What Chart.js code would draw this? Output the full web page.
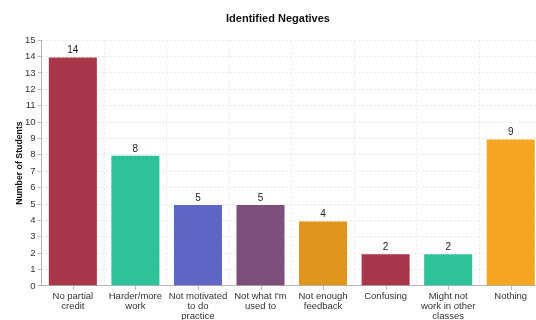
<!DOCTYPE html>
<html lang="en">
<head>
    <meta charset="UTF-8">
    <title>Identified Negatives</title>
    <script src="https://cdn.jsdelivr.net/npm/chart.js"></script>
    <style>
        html, body {
            margin: 0;
            padding: 0;
            overflow: hidden;
            background: #fff;
        }
        .chart-box {
            width: 588px;
            height: 327px;
        }
    </style>
</head>
<body>
    <div class="chart-box">
        <canvas id="negChart"></canvas>
    </div>

    <script>
        // Datos del gráfico
        const categorias = [
            ['No partial', 'credit'],
            ['Harder/more', 'work'],
            ['Not motivated', 'to do', 'practice'],
            ["Not what I'm", 'used to'],
            ['Not enough', 'feedback'],
            ['Confusing'],
            ['Might not', 'work in other', 'classes'],
            ['Nothing']
        ];
        const estudiantes = [14, 8, 5, 5, 4, 2, 2, 9];
        const colores = ['#aa364b', '#2ec29a', '#6066c4', '#7f4f7c', '#e0951f', '#aa364b', '#2ec29a', '#f4a622'];
        const ticksY = [0, 1, 2, 3, 4, 5, 6, 7, 8, 9, 10, 11, 12, 13, 14, 15];

        const fuente = '"Liberation Sans", Arial, sans-serif';

        // Etiquetas de valor encima de cada barra
        const etiquetasValor = {
            id: 'etiquetasValor',
            afterDatasetsDraw(chart) {
                const ctx = chart.ctx;
                const meta = chart.getDatasetMeta(0);
                ctx.save();
                ctx.font = '10px ' + fuente;
                ctx.fillStyle = '#222';
                ctx.textAlign = 'center';
                ctx.textBaseline = 'bottom';
                meta.data.forEach((bar, i) => {
                    ctx.fillText(estudiantes[i], bar.x, bar.y - 1);
                });
                ctx.restore();
            }
        };

        // Marcas del eje X en el centro de cada categoría
        const marcasX = {
            id: 'marcasX',
            afterDraw(chart) {
                const x = chart.scales.x;
                const ctx = chart.ctx;
                ctx.save();
                ctx.strokeStyle = '#bbb';
                ctx.lineWidth = 1;
                ctx.beginPath();
                categorias.forEach((c, i) => {
                    const px = Math.round(x.getPixelForValue(i)) + 0.5;
                    ctx.moveTo(px, x.top);
                    ctx.lineTo(px, x.top + 4);
                });
                ctx.stroke();
                ctx.restore();
            }
        };

        const ctx = document.getElementById('negChart').getContext('2d');
        new Chart(ctx, {
            type: 'bar',
            data: {
                labels: categorias,
                datasets: [{
                    label: 'Number of Students',
                    data: estudiantes,
                    backgroundColor: colores,
                    borderColor: 'rgba(255,255,255,0.45)',
                    borderWidth: 1,
                    barPercentage: 0.8,
                    categoryPercentage: 1.0
                }]
            },
            options: {
                responsive: true,
                maintainAspectRatio: false,
                animation: false,
                layout: {
                    padding: { left: 14, right: 46, top: 4, bottom: 0 }
                },
                plugins: {
                    legend: { display: false },
                    tooltip: { enabled: false },
                    title: {
                        display: true,
                        text: 'Identified Negatives',
                        color: '#111',
                        font: { family: fuente, size: 11, weight: 'bold' },
                        padding: { top: 8, bottom: 15 }
                    }
                },
                scales: {
                    x: {
                        grid: {
                            display: true,
                            offset: true,
                            color: '#e8e8e8',
                            drawTicks: false
                        },
                        border: { display: true, color: '#b5b5b5', dash: [2, 2] },
                        ticks: {
                            color: '#333',
                            maxRotation: 0,
                            autoSkip: false,
                            padding: 6,
                            font: { family: fuente, size: 9.5, lineHeight: 1.02 }
                        }
                    },
                    y: {
                        min: 0,
                        max: 15,
                        afterBuildTicks(axis) {
                            axis.ticks = ticksY.map(v => ({ value: v }));
                        },
                        grid: {
                            color: '#e8e8e8',
                            tickColor: '#bbb',
                            tickLength: 4,
                            tickBorderDash: [],
                            tickBorderDashOffset: 0
                        },
                        border: { display: true, color: '#b5b5b5', dash: [2, 2] },
                        title: {
                            display: true,
                            text: 'Number of Students',
                            color: '#111',
                            font: { family: fuente, size: 8.75, weight: 'bold' },
                            padding: { top: 0, bottom: -1.5 }
                        },
                        ticks: {
                            color: '#333',
                            padding: 2,
                            font: { family: fuente, size: 9.5 }
                        }
                    }
                }
            },
            plugins: [etiquetasValor, marcasX]
        });
    </script>
</body>
</html>
